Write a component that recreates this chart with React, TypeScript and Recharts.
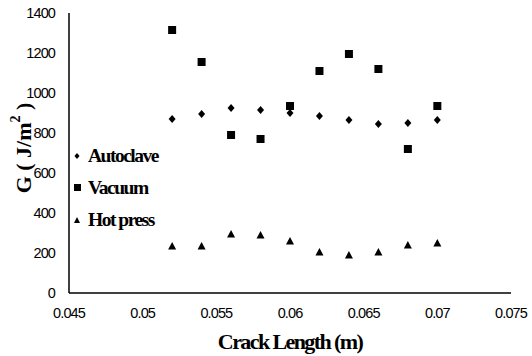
import React from 'react';
import { ScatterChart, Scatter, XAxis, YAxis } from 'recharts';

const crackLengths = [0.052, 0.054, 0.056, 0.058, 0.06, 0.062, 0.064, 0.066, 0.068, 0.07];
const autoclave = [870, 895, 925, 915, 900, 885, 865, 845, 850, 865];
const vacuum = [1315, 1155, 790, 770, 935, 1110, 1195, 1120, 720, 935];
const hotPress = [235, 235, 295, 290, 260, 205, 190, 205, 240, 250];
const xTicks = [0.045, 0.05, 0.055, 0.06, 0.065, 0.07, 0.075];
const yTicks = [0, 200, 400, 600, 800, 1000, 1200, 1400];

const toPoints = (vals: number[]) => crackLengths.map((x, i) => ({ x, y: vals[i] }));

const serif = '"Liberation Serif", "DejaVu Serif", serif';
const sans = '"Liberation Sans", Arial, sans-serif';

const tickStyle = { fontFamily: sans, fontSize: 14.5, fill: '#000', letterSpacing: -0.9 };

const Diamond = (p: any) => (
  <polygon points={`${p.cx},${p.cy - 4} ${p.cx + 3.5},${p.cy} ${p.cx},${p.cy + 4} ${p.cx - 3.5},${p.cy}`} fill="#000" />
);
const Square = (p: any) => <rect x={p.cx - 4} y={p.cy - 4} width={8} height={8} fill="#000" />;
const Triangle = (p: any) => (
  <polygon points={`${p.cx},${p.cy - 4} ${p.cx + 4},${p.cy + 3.5} ${p.cx - 4},${p.cy + 3.5}`} fill="#000" />
);

const LegendBox = () => {
  const items = [
    { name: 'Autoclave', shape: 'diamond' },
    { name: 'Vacuum', shape: 'square' },
    { name: 'Hot press', shape: 'triangle' },
  ];
  return (
    <div style={{ position: 'absolute', left: 72, top: 140, fontFamily: serif, fontWeight: 'bold', fontSize: 19.5, letterSpacing: -1.5, color: '#000' }}>
      {items.map((it) => (
        <div key={it.name} style={{ height: 32, display: 'flex', alignItems: 'center' }}>
          <svg width={12} height={12} style={{ marginRight: 4 }}>
            {it.shape === 'diamond' && <polygon points="5,3 7.5,6 5,9 2.5,6" fill="#000" />}
            {it.shape === 'square' && <rect x={2} y={2} width={7} height={7} fill="#000" />}
            {it.shape === 'triangle' && <polygon points="5,3 8,9 2,9" fill="#000" />}
          </svg>
          <span>{it.name}</span>
        </div>
      ))}
    </div>
  );
};

const YLabel = (props: any) => {
  const { viewBox } = props;
  const cx = 23;
  const cy = viewBox.y + viewBox.height / 2 - 5;
  return (
    <text x={cx} y={cy} transform={`rotate(-90 ${cx} ${cy})`} textAnchor="middle" dominantBaseline="central"
      style={{ fontFamily: serif, fontWeight: 'bold', fontSize: 22, fill: '#000' }}>
      G ( J/m<tspan dy={-8} fontSize={14}>2</tspan><tspan dy={8}> )</tspan>
    </text>
  );
};

export default function App() {
  return (
    <div style={{ position: 'absolute', left: 0, top: 0, width: 532, height: 356, background: '#fff' }}>
      <ScatterChart width={532} height={356} margin={{ top: 13, right: 21, bottom: 33, left: 29 }}>
        <XAxis
          type="number"
          dataKey="x"
          domain={[0.045, 0.075]}
          ticks={xTicks}
          tickFormatter={(v: number) => String(+v.toFixed(3))}
          tick={tickStyle}
          tickLine={false}
          axisLine={{ stroke: '#000', strokeWidth: 1.5 }}
          height={30}
          tickMargin={9}
          label={{ value: 'Crack Length (m)', position: 'insideBottom', offset: -26, style: { fontFamily: serif, fontWeight: 'bold', fontSize: 22, letterSpacing: -1.6, fill: '#000' } }}
        />
        <XAxis xAxisId="top" orientation="top" type="number" dataKey="x" domain={[0.045, 0.075]} height={0} tick={false} tickLine={false} axisLine={{ stroke: '#000', strokeWidth: 1.2 }} />
        <YAxis
          type="number"
          dataKey="y"
          domain={[0, 1400]}
          ticks={yTicks}
          tick={tickStyle}
          tickLine={false}
          axisLine={{ stroke: '#000', strokeWidth: 1.5 }}
          width={40}
          tickMargin={8}
          label={<YLabel />}
        />
        <YAxis yAxisId="right" orientation="right" type="number" dataKey="y" domain={[0, 1400]} width={0} tick={false} tickLine={false} axisLine={{ stroke: '#000', strokeWidth: 1.2 }} />
        <Scatter name="Autoclave" data={toPoints(autoclave)} fill="#000" shape={<Diamond />} isAnimationActive={false} />
        <Scatter name="Vacuum" data={toPoints(vacuum)} fill="#000" shape={<Square />} isAnimationActive={false} />
        <Scatter name="Hot press" data={toPoints(hotPress)} fill="#000" shape={<Triangle />} isAnimationActive={false} />
      </ScatterChart>
      <LegendBox />
    </div>
  );
}
